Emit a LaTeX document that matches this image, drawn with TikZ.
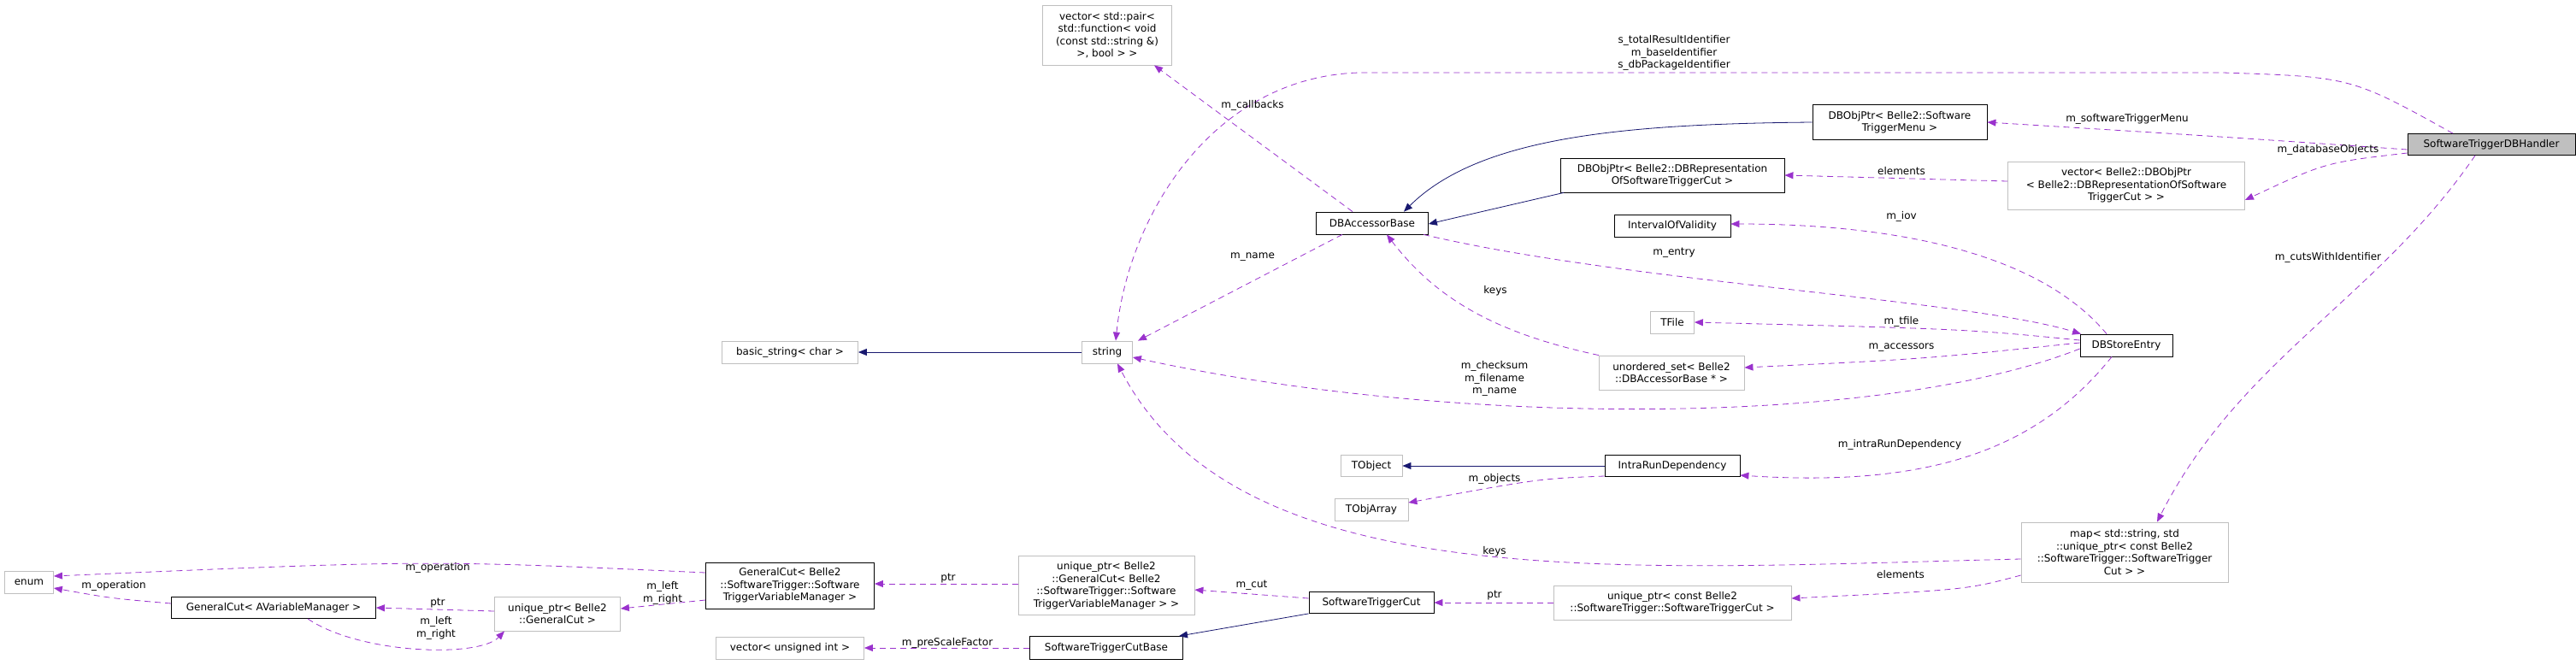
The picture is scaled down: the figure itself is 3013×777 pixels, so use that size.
\documentclass[tikz,border=0pt]{standalone}
\usepackage{fontspec}
\setmainfont{DejaVu Sans}
\usetikzlibrary{arrows.meta}
\definecolor{usecol}{HTML}{9A32CD}
\definecolor{inhcol}{HTML}{191970}
\begin{document}
\begin{tikzpicture}[x=1pt,y=-1pt]
      \useasboundingbox(0,0) rectangle (3013,777);
      \tikzset{C/.style = {shape=rectangle, draw=black, thick, inner sep=1pt, align=center, font=\fontsize{12}{14.5}\selectfont}}
      \tikzset{X/.style = {C, draw=black!25}}
      \tikzset{U/.style = {draw=usecol, thick, dashed, dash pattern=on 7pt off 5pt, -{Triangle[length=10pt,width=8pt]}}}
      \tikzset{I/.style = {draw=inhcol, thick, -{Triangle[length=10pt,width=8pt]}}}
      \tikzset{L/.style = {align=center, inner sep=0pt, font=\fontsize{12}{14.5}\selectfont}}
      \node[C,fill=black!25,minimum width=196,minimum height=25](handler) at (2914,169) {SoftwareTriggerDBHandler};
      \node[C,minimum width=204,minimum height=41](menu) at (2222,143) {DBObjPtr< Belle2::Software\\TriggerMenu >};
      \node[X,minimum width=277,minimum height=56](vecdb) at (2487,217) {vector< Belle2::DBObjPtr\\< Belle2::DBRepresentationOfSoftware\\TriggerCut > >};
      \node[X,minimum width=151,minimum height=70](vecpair) at (1295,41) {vector< std::pair<\\ std::function< void\\(const std::string \&)\\>, bool > >};
      \node[C,minimum width=131,minimum height=26](accbase) at (1605,261) {DBAccessorBase};
      \node[C,minimum width=262,minimum height=40](dbrep) at (1956,205) {DBObjPtr< Belle2::DBRepresentation\\OfSoftwareTriggerCut >};
      \node[C,minimum width=136,minimum height=26](iov) at (1956,264) {IntervalOfValidity};
      \node[X,minimum width=51,minimum height=26](tfile) at (1956,377) {TFile};
      \node[C,minimum width=108,minimum height=26](storeentry) at (2487,404) {DBStoreEntry};
      \node[X,minimum width=170,minimum height=40](uset) at (1955,436) {unordered\_set< Belle2\\::DBAccessorBase * >};
      \node[X,minimum width=59,minimum height=26](string) at (1295,412) {string};
      \node[X,minimum width=159,minimum height=26](basicstr) at (924,412) {basic\_string< char >};
      \node[X,minimum width=72,minimum height=25](tobject) at (1604,545) {TObject};
      \node[X,minimum width=86,minimum height=26](tobjarray) at (1604,596) {TObjArray};
      \node[C,minimum width=158,minimum height=25](intrarun) at (1956,545) {IntraRunDependency};
      \node[X,minimum width=242,minimum height=70](map) at (2485,646) {map< std::string, std\\::unique\_ptr< const Belle2\\::SoftwareTrigger::SoftwareTrigger\\Cut > >};
      \node[X,minimum width=278,minimum height=40](uptrconst) at (1956,705) {unique\_ptr< const Belle2\\::SoftwareTrigger::SoftwareTriggerCut >};
      \node[C,minimum width=146,minimum height=25](swcut) at (1604,705) {SoftwareTriggerCut};
      \node[X,minimum width=206,minimum height=69](uptrgc) at (1294,685) {unique\_ptr< Belle2\\::GeneralCut< Belle2\\::SoftwareTrigger::Software\\TriggerVariableManager > >};
      \node[C,minimum width=179,minimum height=27](swcutbase) at (1294,758) {SoftwareTriggerCutBase};
      \node[X,minimum width=173,minimum height=26](vecuint) at (924,758) {vector< unsigned int >};
      \node[C,minimum width=197,minimum height=54](gcsw) at (924,685) {GeneralCut< Belle2\\::SoftwareTrigger::Software\\TriggerVariableManager >};
      \node[X,minimum width=147,minimum height=40](uptrbgc) at (652,718) {unique\_ptr< Belle2\\::GeneralCut >};
      \node[C,minimum width=239,minimum height=25](gcavm) at (320,711) {GeneralCut< AVariableManager >};
      \node[X,minimum width=57,minimum height=26](enum) at (34,681) {enum};
      \draw[U] ([xshift=-45pt]handler.north) .. controls (2750,90) .. (2600,85) -- (1590,85) .. controls (1420,90) and (1320,250) .. ([xshift=10pt]string.north);
      \draw[U] ([yshift=-6pt]handler.west) .. controls (2600,160) .. (menu.east);
      \draw[U] ([yshift=-10pt]handler.west) .. controls (2720,190) .. ([yshift=-17pt]vecdb.east);
      \draw[U] ([xshift=-19pt]handler.south) .. controls (2780,350) and (2620,420) .. ([xshift=38pt]map.north);
      \draw[I] (menu.west) .. controls (1900,145) and (1730,160) .. ([xshift=37pt]accbase.north);
      \draw[I] ([xshift=-127pt]dbrep.south) -- ([yshift=-1pt]accbase.east);
      \draw[U] ([yshift=5pt]vecdb.west) -- (dbrep.east);
      \draw[U] ([xshift=-23pt]accbase.north) -- ([xshift=55pt]vecpair.south);
      \draw[U] ([xshift=-35pt]accbase.south) -- ([xshift=36pt]string.north);
      \draw[U] ([xshift=60pt]accbase.south) .. controls (1900,330) and (2300,350) .. ([xshift=-53pt]storeentry.north);
      \draw[U] ([xshift=-23pt]storeentry.north) .. controls (2380,290) and (2200,262) .. ([yshift=2pt]iov.east);
      \draw[U] ([yshift=6pt]storeentry.west) .. controls (2300,385) .. (tfile.east);
      \draw[U] ([yshift=3pt]storeentry.west) .. controls (2250,420) .. ([yshift=6pt]uset.east);
      \draw[U] ([xshift=-85pt]uset.north) .. controls (1750,390) and (1680,350) .. ([xshift=17pt]accbase.south);
      \draw[U] ([yshift=-4pt]storeentry.west) .. controls (2200,500) and (1700,500) .. ([yshift=-6pt]string.east);
      \draw[U] ([xshift=-17pt]storeentry.south) .. controls (2380,530) and (2250,570) .. ([yshift=-11pt]intrarun.east);
      \draw[I] (intrarun.west) -- (tobject.east);
      \draw[U] ([yshift=-12pt]intrarun.west) .. controls (1800,560) .. ([yshift=8pt]tobjarray.east);
      \draw[U] ([yshift=-8pt]map.west) .. controls (1900,665) and (1450,700) .. ([xshift=12pt]string.south);
      \draw[U] ([yshift=-27pt]map.west) .. controls (2300,690) .. ([yshift=5pt]uptrconst.east);
      \draw[U] (uptrconst.west) -- (swcut.east);
      \draw[U] ([yshift=5pt]swcut.west) -- ([yshift=-5pt]uptrgc.east);
      \draw[I] (swcut.south west) -- ([xshift=85pt]swcutbase.north);
      \draw[U] (swcutbase.west) -- (vecuint.east);
      \draw[U] ([yshift=2pt]uptrgc.west) -- ([yshift=2pt]gcsw.east);
      \draw[U] ([yshift=15pt]gcsw.west) .. controls (500,655) .. ([yshift=7pt]enum.east);
      \draw[U] ([yshift=-17pt]gcsw.west) -- ([yshift=6pt]uptrbgc.east);
      \draw[U] ([yshift=3pt]uptrbgc.west) -- (gcavm.east);
      \draw[U] ([xshift=40pt]gcavm.south) .. controls (420,765) and (560,770) .. ([xshift=-62pt]uptrbgc.south);
      \draw[U] ([yshift=5pt]gcavm.west) .. controls (130,700) .. ([yshift=-7pt]enum.east);
      \draw[I] (string.west) -- (basicstr.east);
      \node[L](lid) at (1958,62) {s\_totalResultIdentifier\\m\_baseIdentifier\\s\_dbPackageIdentifier};
      \node[L](lmenu) at (2488,139) {m\_softwareTriggerMenu};
      \node[L](ldbobj) at (2723,175) {m\_databaseObjects};
      \node[L](lcuts) at (2723,301) {m\_cutsWithIdentifier};
      \node[L](lelem) at (2224,200) {elements};
      \node[L](lcb) at (1465,123) {m\_callbacks};
      \node[L](lname) at (1465,301) {m\_name};
      \node[L](lentry) at (1958,296) {m\_entry};
      \node[L](liov) at (2224,253) {m\_iov};
      \node[L](ltfile) at (2224,376) {m\_tfile};
      \node[L](lacc) at (2224,407) {m\_accessors};
      \node[L](lkeys) at (1749,340) {keys};
      \node[L](lcheck) at (1748,443) {m\_checksum\\m\_filename\\m\_name};
      \node[L](lintra) at (2222,520) {m\_intraRunDependency};
      \node[L](lobj) at (1748,560) {m\_objects};
      \node[L](lkeys2) at (1748,645) {keys};
      \node[L](lelem2) at (2223,672) {elements};
      \node[L](lptr) at (1748,697) {ptr};
      \node[L](lcut) at (1464,685) {m\_cut};
      \node[L](lpre) at (1108,752) {m\_preScaleFactor};
      \node[L](lptr2) at (1109,677) {ptr};
      \node[L](lop) at (512,664) {m\_operation};
      \node[L](llr) at (775,694) {m\_left\\m\_right};
      \node[L](lptr3) at (512,706) {ptr};
      \node[L](llr2) at (510,735) {m\_left\\m\_right};
      \node[L](lop2) at (133,685) {m\_operation};
    \end{tikzpicture}
\end{document}
